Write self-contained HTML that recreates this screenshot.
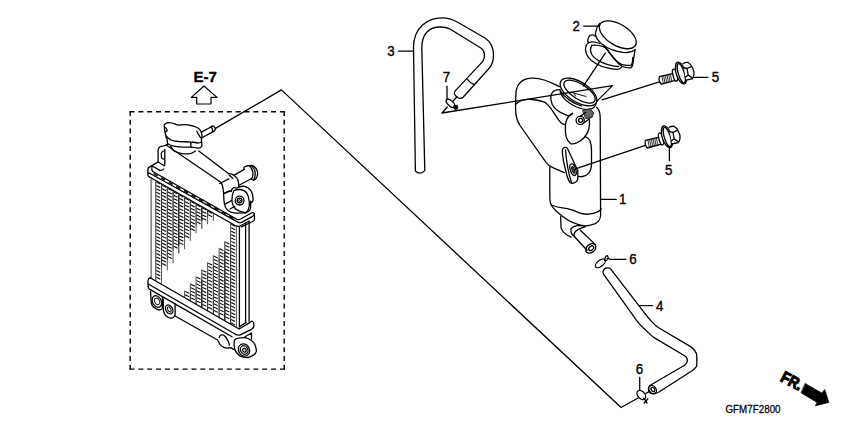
<!DOCTYPE html>
<html><head><meta charset="utf-8">
<style>
html,body{margin:0;padding:0;background:#fff;width:850px;height:425px;overflow:hidden}
svg{display:block}
text{font-family:"Liberation Sans",sans-serif;fill:#000}
</style></head>
<body>
<svg width="850" height="425" viewBox="0 0 850 425">
<defs>
</defs>
<g fill="none" stroke="#000" stroke-width="1.3" stroke-linejoin="round" stroke-linecap="round">

<!-- dashed frame -->
<line x1="129.5" y1="111.8" x2="284.9" y2="111.8" stroke-dasharray="5.0 3.847" stroke-linecap="butt" stroke-width="1.4"/>
<line x1="130.2" y1="111.1" x2="130.2" y2="369.8" stroke-dasharray="5.0 3.748" stroke-linecap="butt" stroke-width="1.4"/>
<line x1="284.2" y1="111.1" x2="284.2" y2="369.8" stroke-dasharray="5.0 3.748" stroke-linecap="butt" stroke-width="1.4"/>
<line x1="129.5" y1="369.1" x2="284.9" y2="369.1" stroke-dasharray="5.0 3.847" stroke-linecap="butt" stroke-width="1.4"/>

<!-- E-7 arrow -->
<path d="M204,86 L191.3,97.4 L196.7,97.4 L196.7,104 L211,104 L211,97.4 L217,97.4 Z" stroke-width="1.2"/>

<!-- leader to hose end -->
<path d="M215.5,128.4 L281.4,89.9 L621.1,407.5 L638,398 M646,393.4 L649.6,391.4"/>

<!-- radiator core fins -->
<g stroke="#000" stroke-width="1.05" stroke-linecap="butt"><line x1="156.40" y1="182.12" x2="160.30" y2="184.02"/>
<line x1="156.40" y1="185.52" x2="160.30" y2="187.42"/>
<line x1="156.40" y1="188.92" x2="160.30" y2="190.82"/>
<line x1="156.40" y1="192.32" x2="160.30" y2="194.22"/>
<line x1="156.40" y1="195.72" x2="160.30" y2="197.62"/>
<line x1="156.40" y1="199.12" x2="160.30" y2="201.02"/>
<line x1="156.40" y1="202.52" x2="160.30" y2="204.42"/>
<line x1="156.40" y1="205.92" x2="160.30" y2="207.82"/>
<line x1="156.40" y1="209.32" x2="160.30" y2="211.22"/>
<line x1="156.40" y1="212.72" x2="160.30" y2="214.62"/>
<line x1="156.40" y1="216.12" x2="160.30" y2="218.02"/>
<line x1="156.40" y1="219.52" x2="160.30" y2="221.42"/>
<line x1="156.40" y1="222.92" x2="160.30" y2="224.82"/>
<line x1="156.40" y1="226.32" x2="160.30" y2="228.22"/>
<line x1="156.40" y1="229.72" x2="160.30" y2="231.62"/>
<line x1="156.40" y1="233.12" x2="160.30" y2="235.02"/>
<line x1="156.40" y1="236.52" x2="160.30" y2="238.42"/>
<line x1="156.40" y1="239.92" x2="160.30" y2="241.82"/>
<line x1="156.40" y1="243.32" x2="160.30" y2="245.22"/>
<line x1="156.40" y1="246.72" x2="160.30" y2="248.62"/>
<line x1="156.40" y1="250.12" x2="160.30" y2="252.02"/>
<line x1="156.40" y1="253.52" x2="160.30" y2="255.42"/>
<line x1="156.40" y1="256.92" x2="160.30" y2="258.82"/>
<line x1="156.40" y1="260.32" x2="160.30" y2="262.22"/>
<line x1="156.40" y1="263.72" x2="160.30" y2="265.62"/>
<line x1="156.40" y1="267.12" x2="160.30" y2="269.02"/>
<line x1="156.40" y1="270.52" x2="160.30" y2="272.42"/>
<line x1="156.40" y1="273.92" x2="160.30" y2="275.82"/>
<line x1="156.40" y1="277.32" x2="160.30" y2="279.22"/>
<line x1="162.16" y1="185.38" x2="166.06" y2="187.28"/>
<line x1="162.16" y1="188.78" x2="166.06" y2="190.68"/>
<line x1="162.16" y1="192.18" x2="166.06" y2="194.08"/>
<line x1="162.16" y1="195.58" x2="166.06" y2="197.48"/>
<line x1="162.16" y1="198.98" x2="166.06" y2="200.88"/>
<line x1="162.16" y1="202.38" x2="166.06" y2="204.28"/>
<line x1="162.16" y1="205.78" x2="166.06" y2="207.68"/>
<line x1="162.16" y1="209.18" x2="166.06" y2="211.08"/>
<line x1="162.16" y1="212.58" x2="166.06" y2="214.48"/>
<line x1="162.16" y1="215.98" x2="166.06" y2="217.88"/>
<line x1="162.16" y1="219.38" x2="166.06" y2="221.28"/>
<line x1="162.16" y1="222.78" x2="166.06" y2="224.68"/>
<line x1="162.16" y1="226.18" x2="166.06" y2="228.08"/>
<line x1="162.16" y1="229.58" x2="166.06" y2="231.48"/>
<line x1="162.16" y1="232.98" x2="166.06" y2="234.88"/>
<line x1="162.16" y1="236.38" x2="166.06" y2="238.28"/>
<line x1="162.16" y1="239.78" x2="166.06" y2="241.68"/>
<line x1="162.16" y1="243.18" x2="166.06" y2="245.08"/>
<line x1="162.16" y1="246.58" x2="166.06" y2="248.48"/>
<line x1="162.16" y1="249.98" x2="166.06" y2="251.88"/>
<line x1="162.16" y1="253.38" x2="166.06" y2="255.28"/>
<line x1="162.16" y1="256.78" x2="166.06" y2="258.68"/>
<line x1="162.16" y1="260.18" x2="166.06" y2="262.08"/>
<line x1="162.16" y1="263.58" x2="166.06" y2="265.48"/>
<line x1="167.91" y1="188.63" x2="171.81" y2="190.53"/>
<line x1="167.91" y1="192.03" x2="171.81" y2="193.93"/>
<line x1="167.91" y1="195.43" x2="171.81" y2="197.33"/>
<line x1="167.91" y1="198.83" x2="171.81" y2="200.73"/>
<line x1="167.91" y1="202.23" x2="171.81" y2="204.13"/>
<line x1="167.91" y1="205.63" x2="171.81" y2="207.53"/>
<line x1="167.91" y1="209.03" x2="171.81" y2="210.93"/>
<line x1="167.91" y1="212.43" x2="171.81" y2="214.33"/>
<line x1="167.91" y1="215.83" x2="171.81" y2="217.73"/>
<line x1="167.91" y1="219.23" x2="171.81" y2="221.13"/>
<line x1="167.91" y1="222.63" x2="171.81" y2="224.53"/>
<line x1="167.91" y1="226.03" x2="171.81" y2="227.93"/>
<line x1="167.91" y1="229.43" x2="171.81" y2="231.33"/>
<line x1="167.91" y1="232.83" x2="171.81" y2="234.73"/>
<line x1="167.91" y1="236.23" x2="171.81" y2="238.13"/>
<line x1="167.91" y1="239.63" x2="171.81" y2="241.53"/>
<line x1="167.91" y1="243.03" x2="171.81" y2="244.93"/>
<line x1="167.91" y1="246.43" x2="171.81" y2="248.33"/>
<line x1="167.91" y1="249.83" x2="171.81" y2="251.73"/>
<line x1="167.91" y1="253.23" x2="171.81" y2="255.13"/>
<line x1="167.91" y1="256.63" x2="171.81" y2="258.53"/>
<line x1="173.66" y1="191.88" x2="177.56" y2="193.78"/>
<line x1="173.66" y1="195.28" x2="177.56" y2="197.18"/>
<line x1="173.66" y1="198.68" x2="177.56" y2="200.58"/>
<line x1="173.66" y1="202.08" x2="177.56" y2="203.98"/>
<line x1="173.66" y1="205.48" x2="177.56" y2="207.38"/>
<line x1="173.66" y1="208.88" x2="177.56" y2="210.78"/>
<line x1="173.66" y1="212.28" x2="177.56" y2="214.18"/>
<line x1="173.66" y1="215.68" x2="177.56" y2="217.58"/>
<line x1="173.66" y1="219.08" x2="177.56" y2="220.98"/>
<line x1="173.66" y1="222.48" x2="177.56" y2="224.38"/>
<line x1="173.66" y1="225.88" x2="177.56" y2="227.78"/>
<line x1="173.66" y1="229.28" x2="177.56" y2="231.18"/>
<line x1="173.66" y1="232.68" x2="177.56" y2="234.58"/>
<line x1="173.66" y1="236.08" x2="177.56" y2="237.98"/>
<line x1="173.66" y1="239.48" x2="177.56" y2="241.38"/>
<line x1="173.66" y1="242.88" x2="177.56" y2="244.78"/>
<line x1="173.66" y1="246.28" x2="177.56" y2="248.18"/>
<line x1="179.42" y1="195.13" x2="183.32" y2="197.03"/>
<line x1="179.42" y1="198.53" x2="183.32" y2="200.43"/>
<line x1="179.42" y1="201.93" x2="183.32" y2="203.83"/>
<line x1="179.42" y1="205.33" x2="183.32" y2="207.23"/>
<line x1="179.42" y1="208.73" x2="183.32" y2="210.63"/>
<line x1="179.42" y1="212.13" x2="183.32" y2="214.03"/>
<line x1="179.42" y1="215.53" x2="183.32" y2="217.43"/>
<line x1="179.42" y1="218.93" x2="183.32" y2="220.83"/>
<line x1="179.42" y1="222.33" x2="183.32" y2="224.23"/>
<line x1="179.42" y1="225.73" x2="183.32" y2="227.63"/>
<line x1="179.42" y1="229.13" x2="183.32" y2="231.03"/>
<line x1="179.42" y1="232.53" x2="183.32" y2="234.43"/>
<line x1="179.42" y1="235.93" x2="183.32" y2="237.83"/>
<line x1="179.42" y1="239.33" x2="183.32" y2="241.23"/>
<line x1="179.42" y1="242.73" x2="183.32" y2="244.63"/>
<line x1="185.18" y1="198.38" x2="189.08" y2="200.28"/>
<line x1="185.18" y1="201.78" x2="189.08" y2="203.68"/>
<line x1="185.18" y1="205.18" x2="189.08" y2="207.08"/>
<line x1="185.18" y1="208.58" x2="189.08" y2="210.48"/>
<line x1="185.18" y1="211.98" x2="189.08" y2="213.88"/>
<line x1="185.18" y1="215.38" x2="189.08" y2="217.28"/>
<line x1="185.18" y1="218.78" x2="189.08" y2="220.68"/>
<line x1="185.18" y1="222.18" x2="189.08" y2="224.08"/>
<line x1="185.18" y1="225.58" x2="189.08" y2="227.48"/>
<line x1="185.18" y1="228.98" x2="189.08" y2="230.88"/>
<line x1="185.18" y1="232.38" x2="189.08" y2="234.28"/>
<line x1="185.18" y1="235.78" x2="189.08" y2="237.68"/>
<line x1="185.18" y1="291.40" x2="189.08" y2="293.30"/>
<line x1="185.18" y1="294.80" x2="189.08" y2="296.70"/>
<line x1="190.93" y1="201.63" x2="194.83" y2="203.53"/>
<line x1="190.93" y1="205.03" x2="194.83" y2="206.93"/>
<line x1="190.93" y1="208.43" x2="194.83" y2="210.33"/>
<line x1="190.93" y1="211.83" x2="194.83" y2="213.73"/>
<line x1="190.93" y1="215.23" x2="194.83" y2="217.13"/>
<line x1="190.93" y1="218.63" x2="194.83" y2="220.53"/>
<line x1="190.93" y1="222.03" x2="194.83" y2="223.93"/>
<line x1="190.93" y1="225.43" x2="194.83" y2="227.33"/>
<line x1="190.93" y1="228.83" x2="194.83" y2="230.73"/>
<line x1="190.93" y1="284.30" x2="194.83" y2="286.20"/>
<line x1="190.93" y1="287.70" x2="194.83" y2="289.60"/>
<line x1="190.93" y1="291.10" x2="194.83" y2="293.00"/>
<line x1="190.93" y1="294.50" x2="194.83" y2="296.40"/>
<line x1="190.93" y1="297.90" x2="194.83" y2="299.80"/>
<line x1="196.69" y1="204.89" x2="200.59" y2="206.79"/>
<line x1="196.69" y1="208.29" x2="200.59" y2="210.19"/>
<line x1="196.69" y1="211.69" x2="200.59" y2="213.59"/>
<line x1="196.69" y1="215.09" x2="200.59" y2="216.99"/>
<line x1="196.69" y1="218.49" x2="200.59" y2="220.39"/>
<line x1="196.69" y1="221.89" x2="200.59" y2="223.79"/>
<line x1="196.69" y1="277.20" x2="200.59" y2="279.10"/>
<line x1="196.69" y1="280.60" x2="200.59" y2="282.50"/>
<line x1="196.69" y1="284.00" x2="200.59" y2="285.90"/>
<line x1="196.69" y1="287.40" x2="200.59" y2="289.30"/>
<line x1="196.69" y1="290.80" x2="200.59" y2="292.70"/>
<line x1="196.69" y1="294.20" x2="200.59" y2="296.10"/>
<line x1="196.69" y1="297.60" x2="200.59" y2="299.50"/>
<line x1="196.69" y1="301.00" x2="200.59" y2="302.90"/>
<line x1="202.44" y1="208.14" x2="206.34" y2="210.04"/>
<line x1="202.44" y1="211.54" x2="206.34" y2="213.44"/>
<line x1="202.44" y1="214.94" x2="206.34" y2="216.84"/>
<line x1="202.44" y1="218.34" x2="206.34" y2="220.24"/>
<line x1="202.44" y1="270.40" x2="206.34" y2="272.30"/>
<line x1="202.44" y1="273.80" x2="206.34" y2="275.70"/>
<line x1="202.44" y1="277.20" x2="206.34" y2="279.10"/>
<line x1="202.44" y1="280.60" x2="206.34" y2="282.50"/>
<line x1="202.44" y1="284.00" x2="206.34" y2="285.90"/>
<line x1="202.44" y1="287.40" x2="206.34" y2="289.30"/>
<line x1="202.44" y1="290.80" x2="206.34" y2="292.70"/>
<line x1="202.44" y1="294.20" x2="206.34" y2="296.10"/>
<line x1="202.44" y1="297.60" x2="206.34" y2="299.50"/>
<line x1="202.44" y1="301.00" x2="206.34" y2="302.90"/>
<line x1="202.44" y1="304.40" x2="206.34" y2="306.30"/>
<line x1="208.20" y1="211.39" x2="212.10" y2="213.29"/>
<line x1="208.20" y1="214.79" x2="212.10" y2="216.69"/>
<line x1="208.20" y1="263.10" x2="212.10" y2="265.00"/>
<line x1="208.20" y1="266.50" x2="212.10" y2="268.40"/>
<line x1="208.20" y1="269.90" x2="212.10" y2="271.80"/>
<line x1="208.20" y1="273.30" x2="212.10" y2="275.20"/>
<line x1="208.20" y1="276.70" x2="212.10" y2="278.60"/>
<line x1="208.20" y1="280.10" x2="212.10" y2="282.00"/>
<line x1="208.20" y1="283.50" x2="212.10" y2="285.40"/>
<line x1="208.20" y1="286.90" x2="212.10" y2="288.80"/>
<line x1="208.20" y1="290.30" x2="212.10" y2="292.20"/>
<line x1="208.20" y1="293.70" x2="212.10" y2="295.60"/>
<line x1="208.20" y1="297.10" x2="212.10" y2="299.00"/>
<line x1="208.20" y1="300.50" x2="212.10" y2="302.40"/>
<line x1="208.20" y1="303.90" x2="212.10" y2="305.80"/>
<line x1="208.20" y1="307.30" x2="212.10" y2="309.20"/>
<line x1="213.95" y1="256.10" x2="217.85" y2="258.00"/>
<line x1="213.95" y1="259.50" x2="217.85" y2="261.40"/>
<line x1="213.95" y1="262.90" x2="217.85" y2="264.80"/>
<line x1="213.95" y1="266.30" x2="217.85" y2="268.20"/>
<line x1="213.95" y1="269.70" x2="217.85" y2="271.60"/>
<line x1="213.95" y1="273.10" x2="217.85" y2="275.00"/>
<line x1="213.95" y1="276.50" x2="217.85" y2="278.40"/>
<line x1="213.95" y1="279.90" x2="217.85" y2="281.80"/>
<line x1="213.95" y1="283.30" x2="217.85" y2="285.20"/>
<line x1="213.95" y1="286.70" x2="217.85" y2="288.60"/>
<line x1="213.95" y1="290.10" x2="217.85" y2="292.00"/>
<line x1="213.95" y1="293.50" x2="217.85" y2="295.40"/>
<line x1="213.95" y1="296.90" x2="217.85" y2="298.80"/>
<line x1="213.95" y1="300.30" x2="217.85" y2="302.20"/>
<line x1="213.95" y1="303.70" x2="217.85" y2="305.60"/>
<line x1="213.95" y1="307.10" x2="217.85" y2="309.00"/>
<line x1="213.95" y1="310.50" x2="217.85" y2="312.40"/>
<line x1="219.71" y1="248.70" x2="223.61" y2="250.60"/>
<line x1="219.71" y1="252.10" x2="223.61" y2="254.00"/>
<line x1="219.71" y1="255.50" x2="223.61" y2="257.40"/>
<line x1="219.71" y1="258.90" x2="223.61" y2="260.80"/>
<line x1="219.71" y1="262.30" x2="223.61" y2="264.20"/>
<line x1="219.71" y1="265.70" x2="223.61" y2="267.60"/>
<line x1="219.71" y1="269.10" x2="223.61" y2="271.00"/>
<line x1="219.71" y1="272.50" x2="223.61" y2="274.40"/>
<line x1="219.71" y1="275.90" x2="223.61" y2="277.80"/>
<line x1="219.71" y1="279.30" x2="223.61" y2="281.20"/>
<line x1="219.71" y1="282.70" x2="223.61" y2="284.60"/>
<line x1="219.71" y1="286.10" x2="223.61" y2="288.00"/>
<line x1="219.71" y1="289.50" x2="223.61" y2="291.40"/>
<line x1="219.71" y1="292.90" x2="223.61" y2="294.80"/>
<line x1="219.71" y1="296.30" x2="223.61" y2="298.20"/>
<line x1="219.71" y1="299.70" x2="223.61" y2="301.60"/>
<line x1="219.71" y1="303.10" x2="223.61" y2="305.00"/>
<line x1="219.71" y1="306.50" x2="223.61" y2="308.40"/>
<line x1="219.71" y1="309.90" x2="223.61" y2="311.80"/>
<line x1="219.71" y1="313.30" x2="223.61" y2="315.20"/>
<line x1="225.46" y1="242.10" x2="229.36" y2="244.00"/>
<line x1="225.46" y1="245.50" x2="229.36" y2="247.40"/>
<line x1="225.46" y1="248.90" x2="229.36" y2="250.80"/>
<line x1="225.46" y1="252.30" x2="229.36" y2="254.20"/>
<line x1="225.46" y1="255.70" x2="229.36" y2="257.60"/>
<line x1="225.46" y1="259.10" x2="229.36" y2="261.00"/>
<line x1="225.46" y1="262.50" x2="229.36" y2="264.40"/>
<line x1="225.46" y1="265.90" x2="229.36" y2="267.80"/>
<line x1="225.46" y1="269.30" x2="229.36" y2="271.20"/>
<line x1="225.46" y1="272.70" x2="229.36" y2="274.60"/>
<line x1="225.46" y1="276.10" x2="229.36" y2="278.00"/>
<line x1="225.46" y1="279.50" x2="229.36" y2="281.40"/>
<line x1="225.46" y1="282.90" x2="229.36" y2="284.80"/>
<line x1="225.46" y1="286.30" x2="229.36" y2="288.20"/>
<line x1="225.46" y1="289.70" x2="229.36" y2="291.60"/>
<line x1="225.46" y1="293.10" x2="229.36" y2="295.00"/>
<line x1="225.46" y1="296.50" x2="229.36" y2="298.40"/>
<line x1="225.46" y1="299.90" x2="229.36" y2="301.80"/>
<line x1="225.46" y1="303.30" x2="229.36" y2="305.20"/>
<line x1="225.46" y1="306.70" x2="229.36" y2="308.60"/>
<line x1="225.46" y1="310.10" x2="229.36" y2="312.00"/>
<line x1="225.46" y1="313.50" x2="229.36" y2="315.40"/>
<line x1="225.46" y1="316.90" x2="229.36" y2="318.80"/>
<line x1="231.22" y1="224.39" x2="235.12" y2="226.29"/>
<line x1="231.22" y1="227.79" x2="235.12" y2="229.69"/>
<line x1="231.22" y1="231.19" x2="235.12" y2="233.09"/>
<line x1="231.22" y1="234.59" x2="235.12" y2="236.49"/>
<line x1="231.22" y1="237.99" x2="235.12" y2="239.89"/>
<line x1="231.22" y1="241.39" x2="235.12" y2="243.29"/>
<line x1="231.22" y1="244.79" x2="235.12" y2="246.69"/>
<line x1="231.22" y1="248.19" x2="235.12" y2="250.09"/>
<line x1="231.22" y1="251.59" x2="235.12" y2="253.49"/>
<line x1="231.22" y1="254.99" x2="235.12" y2="256.89"/>
<line x1="231.22" y1="258.39" x2="235.12" y2="260.29"/>
<line x1="231.22" y1="261.79" x2="235.12" y2="263.69"/>
<line x1="231.22" y1="265.19" x2="235.12" y2="267.09"/>
<line x1="231.22" y1="268.59" x2="235.12" y2="270.49"/>
<line x1="231.22" y1="271.99" x2="235.12" y2="273.89"/>
<line x1="231.22" y1="275.39" x2="235.12" y2="277.29"/>
<line x1="231.22" y1="278.79" x2="235.12" y2="280.69"/>
<line x1="231.22" y1="282.19" x2="235.12" y2="284.09"/>
<line x1="231.22" y1="285.59" x2="235.12" y2="287.49"/>
<line x1="231.22" y1="288.99" x2="235.12" y2="290.89"/>
<line x1="231.22" y1="292.39" x2="235.12" y2="294.29"/>
<line x1="231.22" y1="295.79" x2="235.12" y2="297.69"/>
<line x1="231.22" y1="299.19" x2="235.12" y2="301.09"/>
<line x1="231.22" y1="302.59" x2="235.12" y2="304.49"/>
<line x1="231.22" y1="305.99" x2="235.12" y2="307.89"/>
<line x1="231.22" y1="309.39" x2="235.12" y2="311.29"/>
<line x1="231.22" y1="312.79" x2="235.12" y2="314.69"/>
<line x1="231.22" y1="316.19" x2="235.12" y2="318.09"/>
<line x1="231.22" y1="319.59" x2="235.12" y2="321.49"/>
<line x1="231.22" y1="322.99" x2="235.12" y2="324.89"/>
<line x1="155.80" y1="181.22" x2="155.80" y2="281.01" stroke-width="0.85" stroke="#000"/>
<line x1="161.56" y1="184.48" x2="161.56" y2="284.26" stroke-width="0.85" stroke="#333"/>
<line x1="161.56" y1="184.48" x2="161.56" y2="267.00" stroke-width="0.85" stroke="#333"/>
<line x1="167.31" y1="187.73" x2="167.31" y2="270.25" stroke-width="0.85" stroke="#333"/>
<line x1="167.31" y1="187.73" x2="167.31" y2="260.00" stroke-width="0.85" stroke="#333"/>
<line x1="173.06" y1="190.98" x2="173.06" y2="263.25" stroke-width="0.85" stroke="#333"/>
<line x1="173.06" y1="190.98" x2="173.06" y2="250.30" stroke-width="0.85" stroke="#333"/>
<line x1="178.82" y1="194.23" x2="178.82" y2="253.55" stroke-width="0.85" stroke="#000"/>
<line x1="178.82" y1="194.23" x2="178.82" y2="246.00" stroke-width="0.85" stroke="#000"/>
<line x1="184.58" y1="197.48" x2="184.58" y2="249.25" stroke-width="0.85" stroke="#333"/>
<line x1="184.58" y1="197.48" x2="184.58" y2="237.60" stroke-width="0.85" stroke="#333"/>
<line x1="184.58" y1="290.50" x2="184.58" y2="297.58" stroke-width="0.85" stroke="#333"/>
<line x1="190.33" y1="200.73" x2="190.33" y2="240.85" stroke-width="0.85" stroke="#333"/>
<line x1="190.33" y1="293.75" x2="190.33" y2="300.83" stroke-width="0.85" stroke="#333"/>
<line x1="190.33" y1="200.73" x2="190.33" y2="230.00" stroke-width="0.85" stroke="#333"/>
<line x1="190.33" y1="283.40" x2="190.33" y2="300.90" stroke-width="0.85" stroke="#333"/>
<line x1="196.09" y1="203.99" x2="196.09" y2="233.25" stroke-width="0.85" stroke="#333"/>
<line x1="196.09" y1="286.65" x2="196.09" y2="304.15" stroke-width="0.85" stroke="#333"/>
<line x1="196.09" y1="203.99" x2="196.09" y2="225.50" stroke-width="0.85" stroke="#333"/>
<line x1="196.09" y1="276.30" x2="196.09" y2="304.21" stroke-width="0.85" stroke="#333"/>
<line x1="201.84" y1="207.24" x2="201.84" y2="228.75" stroke-width="0.85" stroke="#000"/>
<line x1="201.84" y1="279.55" x2="201.84" y2="307.46" stroke-width="0.85" stroke="#000"/>
<line x1="201.84" y1="207.24" x2="201.84" y2="221.00" stroke-width="0.85" stroke="#000"/>
<line x1="201.84" y1="269.50" x2="201.84" y2="307.53" stroke-width="0.85" stroke="#000"/>
<line x1="207.60" y1="210.49" x2="207.60" y2="224.25" stroke-width="0.85" stroke="#333"/>
<line x1="207.60" y1="272.75" x2="207.60" y2="310.78" stroke-width="0.85" stroke="#333"/>
<line x1="207.60" y1="210.49" x2="207.60" y2="217.70" stroke-width="0.85" stroke="#333"/>
<line x1="207.60" y1="262.20" x2="207.60" y2="310.84" stroke-width="0.85" stroke="#333"/>
<line x1="213.35" y1="213.74" x2="213.35" y2="220.95" stroke-width="0.85" stroke="#333"/>
<line x1="213.35" y1="265.45" x2="213.35" y2="314.09" stroke-width="0.85" stroke="#333"/>
<line x1="213.35" y1="255.20" x2="213.35" y2="314.16" stroke-width="0.85" stroke="#333"/>
<line x1="219.11" y1="258.45" x2="219.11" y2="317.41" stroke-width="0.85" stroke="#333"/>
<line x1="219.11" y1="247.80" x2="219.11" y2="317.47" stroke-width="0.85" stroke="#333"/>
<line x1="224.86" y1="251.05" x2="224.86" y2="320.72" stroke-width="0.85" stroke="#000"/>
<line x1="224.86" y1="241.20" x2="224.86" y2="320.78" stroke-width="0.85" stroke="#000"/>
<line x1="230.62" y1="244.45" x2="230.62" y2="324.04" stroke-width="0.85" stroke="#333"/>
<line x1="230.62" y1="223.49" x2="230.62" y2="324.10" stroke-width="0.85" stroke="#333"/>
<line x1="236.37" y1="226.75" x2="236.37" y2="327.35" stroke-width="0.85" stroke="#333"/></g>
<path d="M151.1,178.5 L151.1,278.5" stroke-width="0.8"/>
<path d="M239.4,227.4 L239.4,326.8 M245.6,223 L245.6,322.8 M249.1,221 L249.1,321.2"/>
<path d="M157.9,162.1 L148.5,167.6 Q147.9,168.5 147.9,170 L147.9,174.7 Q148,176.2 149.5,177"/>
<path d="M152.1,165.9 Q151.2,170.8 153.2,171.8 L236.8,219.3 Q238.7,220 240.6,219 L250.9,213.2 Q253.2,211.9 254.3,213.5 L254.5,219.3 Q254.3,220.8 252.5,221.5 L241.5,226.8"/>
<path d="M147.9,172.8 Q148.6,173.6 149.7,173.2 L237.4,221.9 Q239.7,223.3 241.6,222.3 L252.6,216.4 Q254,215.5 254.4,214"/>
<path d="M149.5,177 L235.6,225.7 Q237.9,226.9 240.5,225.8 L248.5,221.5"/>
<path stroke-width="1.4" stroke-linecap="butt" d="M153.5,173.5 L157.5,175.8 M161.1,177.8 L165.1,180.1 M168.7,182.1 L172.7,184.3 M176.3,186.3 L180.3,188.6 M183.9,190.6 L187.9,192.9 M191.5,194.9 L195.5,197.1 M199.1,199.1 L203.1,201.4 M206.7,203.4 L210.7,205.7 M214.3,207.7 L218.3,209.9 M221.9,211.9 L225.9,214.2 M229.5,216.2 L233.5,218.5"/>
<path d="M148.2,286.4 L147.9,281 Q148.2,278.2 150.3,277.6 L154.4,280.2 L239.1,329.0 L249.7,322.6 Q251.5,320.6 252.8,321.5 Q254,322.5 253.8,325 L253.8,326.5 Q253.5,328 251.5,329.3 L240.2,334.9 Q237.5,335.5 235.5,334.4"/>
<path d="M148.2,284 L235.5,334.3"/>
<path d="M148.2,286.4 Q148.6,289.3 150.3,289.6 L232,336.8"/>
<path d="M239.4,326.8 L246.2,322.4"/>
<path d="M150.6,291.5 L151.1,302 Q152,306.5 154.4,307.6 Q157,310 159.1,310 Q161.5,309.8 162.4,308.5 L162.4,297.2"/>
<ellipse cx="156.9" cy="301.5" rx="4.4" ry="6.1" transform="rotate(-28 156.9 301.5)"/><g stroke-width="0.9"><ellipse cx="157.1" cy="301.4" rx="2.4" ry="3.4" transform="rotate(-28 157.1 301.4)"/></g>
<path d="M163.2,299 L163.4,310.4 Q164.5,315.5 167.6,317 Q170,318.5 172.3,318 Q175,316.8 175.1,314.2 L175.1,303.8"/>
<ellipse cx="169.2" cy="309.4" rx="3.3" ry="4.8" transform="rotate(-30 169.2 309.4)"/><ellipse cx="169.3" cy="309.4" rx="1.5" ry="2.8" transform="rotate(-30 169.3 309.4)" stroke-width="0.9"/>
<path d="M175.1,316 L217.6,340 Q219,342 219.5,343.8 Q221,346.5 223.3,347.1 Q226,348.3 228,348 Q230,347.6 230.8,347.6 Q232.5,348.5 233.7,349.5 L237,350.9"/>
<path d="M219,337.7 Q220,335 221.4,334.9 Q223.5,334.5 224.2,335.4 Q226,337 227.1,339.1 Q228.5,341.5 229,343.4 L229.4,345.2"/>
<path d="M234.6,340 Q236,338.5 238.4,338.2 Q242,337.5 245,337.7 Q249,338.5 251.5,340.5 Q254.5,342.5 255.3,345.7 Q256.5,348.5 256.3,351.4 Q255.8,353.8 253.4,355.1 Q250.5,357 247.8,357.5 Q243,357.5 240.2,356.1 Q237,354 235.5,350.9 Q234,348 234.1,344.8 Q234,342 234.6,340 Z" fill="#fff"/>
<ellipse cx="244" cy="350" rx="5.4" ry="6.4" transform="rotate(-30 244 350)"/><ellipse cx="244.2" cy="350" rx="3.6" ry="4.4" transform="rotate(-30 244.2 350)"/><ellipse cx="244.4" cy="350.2" rx="1.6" ry="2" transform="rotate(-30 244.4 350.2)"/>
<path d="M245,336.8 L251.5,333 L251.5,339.1"/>
<path d="M158.1,162 L158.1,150 Q158.5,147.2 159.9,146.8 Q161,146.1 162.7,146.1 L169.1,144"/>
<path d="M158.1,162 L164.5,165.9 Q165,164 164.8,160 L164.8,149.3"/>
<path d="M163.4,151 Q161,152.5 161.3,153.5 Q161.2,156.5 161.6,157.8 Q162.5,159 163.8,159.2"/>
<path d="M152.5,166 L153.2,166.5 L160.3,170.6 Q163.5,170 163.8,168.8"/>
<path d="M166.2,145 L220.8,182.2 Q222.8,184.5 223.5,192 Q223.8,196 223.9,200 Q224.3,205 225.5,207.5 Q227.5,210.8 231,212.2 Q234,213.2 237,213.1 L245.5,212.8"/>
<path d="M198.8,151 L228.7,173.7 Q230.5,174 232,174.1 Q235,176 236.7,177.9 Q238.2,180 238.5,182.6 L239,187.3"/>
<path d="M229.1,175.1 L232.9,178.4 M219.7,183.5 L228.7,178.8 M224.4,193.4 L230,190.6"/>
<path d="M234.3,175.1 L244.2,169.4 M239.5,185 L251.2,178.8"/>
<path d="M244.2,169.4 Q243.5,167 245,166.6 Q248.5,165.2 252.7,165.6 Q255.8,167 257.4,171.3 Q258,174.5 256.9,176.9 Q255.5,180 253.6,180.2 Q252,180.3 251.2,178.8"/>
<path d="M251.5,165.8 Q254.5,168 255.2,172.5 Q255.5,177 253.6,180.2 M249.5,166 Q252.5,168.5 253,173 Q253.2,176.5 251.5,179"/>
<path d="M224.8,192.8 L231.2,190.8 M224.8,204.4 L231.6,200.5 M230,209 L235,206.3"/>
<path d="M231.2,191.5 Q232,188 233.8,187.6 Q235.2,187.5 236.4,188.2 Q240,186 244.2,186.3 Q248.5,187 250.6,190.2 Q253,193.5 253.2,199.2 Q253,201.5 251.9,202.5 L250.6,201.2 L250.6,207.6 Q250.2,209.8 249.3,210.9 L245.5,212.8" fill="#fff"/>
<path d="M233.8,190.8 Q231.8,195 231.9,200.5 Q232.2,204.5 233.8,207 Q236,209.8 239,210.9 Q242,212 245.5,212.8 Q247.5,211.5 248.3,209.6 Q249.8,206 249.3,201.8 Q248.8,196 246.7,192.8 Q244,189.8 240.3,189.5 Q236.5,189.3 233.8,190.8 Z"/>
<circle cx="239.6" cy="200.6" r="4.4"/><circle cx="239.6" cy="200.6" r="2.4"/><circle cx="239.6" cy="200.6" r="1" stroke-width="0.9"/>
<path d="M164.2,125.5 Q164.5,123.8 165.6,123.6 Q167.5,122.6 169.4,122.7 Q172,123 174.1,123.6 Q176.5,124.8 178.8,125.1 Q181.5,124.5 184.5,124.6 Q188,124.8 191.1,125.5 Q193.5,126 195.8,127 Q198,128 199.5,129.3 Q201,131 201.4,132.6 Q202,134.5 201.9,136.8 L201.4,140.6 Q201.8,142 201.9,145.3 Q201.5,147.2 201,147.2 Q199.5,148.3 197.7,148.1 Q194,147.5 191.1,147.2 L183.5,147.2 Q178,147 174.1,146.2 Q169,145 167.5,143.4 L167.1,139.2 Q165.5,136.8 166.1,135.9 Q164.7,132 164.7,130.2 Z" fill="#fff"/>
<path d="M164.7,127.4 Q166.2,128 166.6,128.8 Q167.3,130 167.1,130.7 Q166.4,131.9 165.6,131.7"/>
<path d="M196.7,131.2 Q197.2,131.8 197.7,133.1 Q199.5,135.5 200.5,137.8"/>
<path d="M166.1,135.9 Q168.5,139 171.3,140.1 Q175,141.2 178.8,141.5 L190.1,142 L191.1,143 M192,142 Q195,142.5 197.7,143 Q200,143 201.4,142"/>
<path d="M190.6,142.5 L191.1,147.2"/>
<path d="M170.8,146.2 Q172,149.5 174.1,151 Q178,153.2 183.5,153.8 Q188,154 191.1,153.3 Q193.8,152.3 195.3,151"/>
<path d="M201.4,132.1 L210.5,127.2 M201.9,137.8 L211.8,132.4"/>
<path d="M210.5,127.2 Q212.5,125.5 213.8,126.2 Q215.5,127.5 215.3,129.5 Q214.5,131.8 211.8,132.4 M211,127 Q213,128.5 212.5,132"/>
<!-- hose 3 -->
<path d="M415.4,171 L413.5,47.6 C413.5,27 428,17.9 442,17.9 C449,17.9 454,20 459,23 L485.3,38.2 C491,42 493.5,48 493.5,55 C493.5,61 491.5,65.5 489.4,68 L463.3,97 Q461.5,98.9 459,98.2 Q456,97.2 454.6,94.3 Q453.9,92.3 455,91.1 L482.8,61.4 C485,58 485.5,51 481.2,48.2 L449.6,28.8 C446,27 443,27 440.2,27 C429,27 421.8,34 421.8,47.6 L424.8,170.6 Q420,175.5 415.4,171 Z"/>
<path d="M467.6,79.6 Q470.3,83.2 474.4,84.6 M456.8,97 L452.6,101.6"/>
<line x1="398.4" y1="51.2" x2="413.5" y2="51.2"/>


<!-- ===== TANK ===== -->
<!-- ring -->
<path d="M560,90 C560.5,96 566,102 576.5,107 C583,109.5 588,109.8 590.2,109.2 C594,108.5 596,106 596.8,101"/>
<path d="M560.6,91.2 C565,98 572,103 581.7,106"/>
<ellipse cx="578.5" cy="92" rx="20.7" ry="10" transform="rotate(32 578.5 92)" fill="#fff"/>
<ellipse cx="579.5" cy="91.6" rx="17.8" ry="7.6" transform="rotate(32 579.5 91.6)"/>
<path d="M570,92 L586,96.5 M574,93 L575.5,96" stroke-width="0.9"/>
<!-- tank upper body -->
<path d="M559.5,86.6 C549,81 538,77.5 531,78.2 C522,79 517,84 516,92 L515.5,105 L515.8,113 C516,118 517.5,121.5 520,125.5 L546.2,162.7 C548,165 550,166.5 552.8,167.7 C557,169.5 561,171.5 564.4,172.6"/>
<path d="M516,104 C520,100 526,99 532,99.5 C537,100 542,101 545.6,102.7 C548,104.5 550,107 552.7,111.2 L558.4,119.6 C560,122 561.5,123.5 562.6,123.9 C563.5,124.4 564.5,124.6 565.4,124.6"/>
<path d="M560,89.7 C556.5,89.6 553.5,90.8 552,93 C550.8,95 550.7,97.5 550.9,99 C551.2,101.5 551.8,103 552.3,104.5 C553.5,107 555,108.8 557.2,110.2 C559.5,112 562,113.5 565,114.4 C567,115.5 569,115.8 570,115.5 C571,115 571.8,114.2 572.5,113.3"/>
<!-- right edge -->
<path d="M596.5,107.3 C599,109 600.2,112 600.2,118 L600.6,215.3 C600.5,220 597,223 594.6,223.9 C590,225.5 587,225.8 585.2,225.8 C578,225 570,222 562.6,216.4 C557,212 553,209 551.3,205 C550,203 549.8,200 549.8,196 L549.8,167"/>
<path d="M551.3,205 C555,206.5 558,207.5 562.6,207.9 C567,208.5 569,209 572,209.8 C576,211 578,213 581.4,213.5 C586,214.8 591,214.8 598.4,211.6 C600,210.5 600.8,209.5 601.2,208.8"/>
<!-- nipple tab -->
<path d="M572.5,113.3 C569.5,115 567.5,117.5 566.8,119.6 C565.5,122.5 565.2,124.5 565.4,126.7 C565.3,130 565.5,134 566.1,136.6 C567,139.5 568.5,142 570.4,143.6 C572.5,144.2 574.5,143.8 576.7,142.9 C579.5,141.5 582,140 583.8,138 C586,135.5 588,132.5 588.7,129.5 C589.5,126 589.6,122 589.4,119.6 C589,117 588.5,116 588,115"/>
<path d="M585.2,136.6 C587.5,137.5 589.2,139 590,140.8 C591,143.5 591.5,147 591.5,150 L591.5,164.4 C591.3,168.5 590,171.5 588.9,172.8 C587,175 584.5,176.3 582.5,176.5 C580,176.8 578,176.5 576.2,176"/>
<path d="M583,110.5 L590,108.5 L593.5,113 L592,117.5 L586,118.5 Z" fill="#666" stroke="#222" stroke-width="1"/>
<path d="M580,116.5 L585.5,112.5 M582.5,124 L588.5,119.5"/>
<circle cx="580.2" cy="120.4" r="4.1" fill="#fff"/>
<circle cx="580.6" cy="120.3" r="2" />
<!-- bolt tab -->
<path d="M562.4,149.5 C563,147.8 564.3,147.3 565.6,147.4 C566.5,147.5 567.3,148.3 567.7,149 L577.8,170.7 L577.8,179.2 C577.5,180.5 577.2,180.8 576.5,181.5 C575,182.8 573.5,183.4 572,183.4 C570.5,183.2 569.8,182.4 569.8,182.4 C568,179 567.2,177 566.7,175 L563.5,161.2 C562.8,157 562.2,152 562.4,149.5 Z" fill="#fff"/>
<path d="M565.5,150 C566.3,160 568,172 571.5,182.8"/>
<ellipse cx="573" cy="169.7" rx="2.7" ry="6" transform="rotate(-18 573 169.7)"/>
<ellipse cx="573.2" cy="169.8" rx="1.2" ry="3.8" transform="rotate(-18 573.2 169.8)" fill="#444" stroke-width="0.9"/>
<!-- outlet -->
<path d="M560.7,216.4 L561,227.6 C562,231 564,233 567,235 C569,236 570,236.8 571,237"/>
<path d="M571,228.6 C574,225.5 580,224.5 585.2,226.7 C582,228 578,229 576,231 C574,233 573.5,235 574.8,237 C572.5,235.5 570.5,232 571,228.6 Z"/>
<path d="M580.5,230.5 L595.5,244.6 M574.8,237 L587,250.2"/>
<ellipse cx="590.8" cy="248.4" rx="5.6" ry="4.1" transform="rotate(-40 590.8 248.4)"/>
<ellipse cx="591.2" cy="248.2" rx="2.8" ry="1.9" transform="rotate(-40 591.2 248.2)"/>
<!-- leaders tank -->
<path d="M600.6,199.4 L616.2,199.4"/>
<path d="M442,113 L447.3,107 M442,113 L612.5,85.6 L596.5,101.6"/>
<path d="M659.4,81.8 L602,99.8"/>
<path d="M605.3,53.1 L583.3,86.1"/>
<path d="M645.4,145.4 L576.2,168.6"/>
<path d="M447,86.1 L447,99.3"/>
<ellipse cx="450.5" cy="103.3" rx="5.4" ry="2.6" transform="rotate(42 450.5 103.3)"/>
<path d="M454,105.6 L457.2,105.2 L458,108.3 L455.5,110 L453.8,108.2 Z" fill="#000" stroke-width="0.8"/>

<!-- ===== CAP 2 ===== -->
<path d="M589.8,35.5 C591.5,34.6 593.5,34.5 595.5,36.2 M589.8,35.5 C588.6,36.5 587.7,39 587.7,41.1 C587.8,42 588.5,42.5 589.1,42.5 C587.5,43.5 586.5,44.5 586.3,45.3 C585.6,47 585.5,48.8 585.6,50.3 C585.8,53 586.8,55.5 588.4,57.3 C590.5,60 593,62 596.2,63.7 C599.5,65.5 603.5,67 607.4,67.9 C611,68.9 614.5,69.4 617.3,69.3 C619.3,69.2 620.8,68.5 621.5,67.2"/>
<path d="M591.9,45.3 C590.8,47 590.4,48.8 590.5,50.3 C590.8,52.8 591.8,55 593.3,56.6 C595.5,59 598.5,61 601.8,62.3 C605.5,64 609.5,65.2 613.1,65.8 C615,66.2 617,66.5 618.7,66.5"/>
<path d="M591.9,45.3 C595.5,45 599.8,45.5 603.2,46.7 C605.5,47.8 607.5,49.3 608.9,51"/>
<path d="M589.1,42.5 C592,41.6 596,42 599.5,43.5"/>
<path d="M603.2,44.6 C607,49.5 611.5,55.5 615.9,60.1 C617.8,62 619.5,63.5 621.5,64.4 C624.5,65.4 628,65.6 631.4,65.1 C632.5,63 632.8,60 632.8,57.3"/>
<path d="M605.3,47.4 C609.5,53 613.5,58.5 617.3,62.3 C619,64 620.5,65.7 622.3,66.5 C625,67.7 628,68 630.7,67.9 C632,67 632.6,65.6 632.8,64.4 L635,49.6"/>
<path d="M599.7,23.5 C597.5,25.5 596.5,28 596.2,30.5 C595.6,32 595.3,33.5 595.5,34.7 C595.8,36.8 596.8,38.8 598.3,40.4 C599.8,42.3 601.3,43.8 603.2,45.3 C605.8,47.2 608.5,48.6 611.7,49.6 C615.2,50.9 619,51.9 623,52.4 C626,52.7 629,52.5 631.4,51.7 C633,51.1 634.2,50.5 635,49.6"/>
<ellipse cx="617.8" cy="34.8" rx="20.6" ry="10.6" transform="rotate(31 617.8 34.8)" fill="#fff"/>
<path d="M583.8,26.2 L598.9,26.2"/>

<!-- ===== BOLTS ===== -->
<g id="bolt">
<path d="M659.4,76.6 L673.5,73.4 M661.3,84.2 L675.4,80.4 M659.4,76.6 Q658.2,80.8 661.3,84.2"/>
<path d="M662,76.5 L663.3,83.6 M663.7,76.1 L665,83.2 M665.4,75.7 L666.7,82.8 M667.1,75.3 L668.4,82.4 M668.8,74.9 L670.1,82 M670.5,74.5 L671.8,81.6" stroke-width="0.8"/>
<ellipse cx="675" cy="75.2" rx="2" ry="6.2" transform="rotate(-15 675 75.2)" fill="#fff"/>
<ellipse cx="681" cy="73" rx="4.8" ry="11.3" transform="rotate(-17 681 73)" fill="#fff"/>
<ellipse cx="681.3" cy="73.2" rx="3" ry="10" transform="rotate(-17 681.3 73.2)"/>
<path d="M683.2,63.5 Q685.5,62.2 688,62.5 Q691,64 692.3,67.5 Q694.5,71 694,74.5 Q693.5,77.5 692.3,78.8 L686,80.2" fill="#fff"/>
<path d="M682.8,67.5 L687,68.5 L688.2,75 L685.5,77 M687,68.5 L690.5,66.8 M688.2,75 L692.3,78"/>
</g>
<use href="#bolt" transform="translate(-14 63.8)"/>
<path d="M693.8,77.3 L707.9,77.3"/>
<path d="M669.4,148.4 L669.4,160.6"/>

<!-- ===== HOSE 4 ===== -->
<path d="M603.5,274.1 L636.4,320.2 C640,325 643,328 645,329.4 C648,332.5 651,335.5 654.5,337.9 L684.6,355.8 C686.5,357 687.4,359 687.4,360.5 C687.4,362.5 686,364 684.6,365.2 L650.7,385 C648.5,386.5 648,389 649,391.5 C650,393.5 653,394.5 658.2,392.5 L692.1,370.8 C695,368.5 696.8,366.5 696.8,365.2 L696.8,355.8 C696.5,352 694,349 690.2,346.4 L658.2,327.5 C654,324.5 650,320 645.8,314.6 L611,269.4 C609.5,267.5 606,267.5 604.5,269 C603,270.5 602.8,272.5 603.5,274.1 Z"/>
<ellipse cx="652.6" cy="389.6" rx="3.4" ry="4.6" transform="rotate(-35 652.6 389.6)"/>
<ellipse cx="652.9" cy="389.4" rx="1.6" ry="2.4" transform="rotate(-35 652.9 389.4)"/>
<path d="M639.2,305.6 L652.6,305.6"/>
<!-- clamps 6 -->
<ellipse cx="600.3" cy="263.3" rx="5.8" ry="3" transform="rotate(-38 600.3 263.3)"/>
<path d="M604.5,260.5 C605,257.5 606,255.8 607.2,255.6 C608.3,256 608.3,258 607.5,259.5 C606.5,261 605,261 604.8,259.5 M607,258.5 C608.5,258 609.5,258.8 610.4,259.3 L626,259.3" />
<ellipse cx="641.3" cy="395" rx="3.5" ry="5.2" transform="rotate(-42 641.3 395)"/>
<path d="M643.8,398.2 C645,400 646.5,402.5 647,403 M647.8,398.8 C647,400 645,402 644.2,403" stroke-width="1.4"/>
<path d="M639.7,377.4 L639.7,390"/>

<!-- ===== FR ARROW ===== -->
<path d="M805.3,383.6 L821.8,393 L824.8,389.4 L828.9,402.4 L815.3,405.9 L817.1,402.4 L801.2,393 Z" fill="#000" stroke="#000" stroke-width="0.6" stroke-linejoin="miter"/>
</g>
<text x="193.6" y="82" font-size="15" font-weight="bold" stroke="#000" stroke-width="0.3">E-7</text>
<text transform="translate(387.3 55.8) scale(1 1.1)" font-size="13.3" stroke="#000" stroke-width="0.35">3</text>
<text transform="translate(442.7 82.3) scale(1 1.1)" font-size="13.3" stroke="#000" stroke-width="0.35">7</text>
<text transform="translate(572.5 30.8) scale(1 1.1)" font-size="13.3" stroke="#000" stroke-width="0.35">2</text>
<text transform="translate(711.7 82.2) scale(1 1.1)" font-size="13.3" stroke="#000" stroke-width="0.35">5</text>
<text transform="translate(665.1 174.5) scale(1 1.1)" font-size="13.3" stroke="#000" stroke-width="0.35">5</text>
<text transform="translate(619 204.1) scale(1 1.1)" font-size="13.3" stroke="#000" stroke-width="0.35">1</text>
<text transform="translate(629.2 264.3) scale(1 1.1)" font-size="13.3" stroke="#000" stroke-width="0.35">6</text>
<text transform="translate(655.9 310.8) scale(1 1.1)" font-size="13.3" stroke="#000" stroke-width="0.35">4</text>
<text transform="translate(635.8 373.9) scale(1 1.1)" font-size="13.3" stroke="#000" stroke-width="0.35">6</text>
<text transform="translate(725.4 413.2) scale(0.92 1)" font-size="10.7" stroke="#000" stroke-width="0.25">GFM7F2800</text>
<text x="0" y="0" font-size="16" font-weight="bold" stroke="#000" stroke-width="1.2" transform="translate(779.5 380.5) rotate(28) scale(0.86 1)">FR.</text>
</svg>
</body></html>
